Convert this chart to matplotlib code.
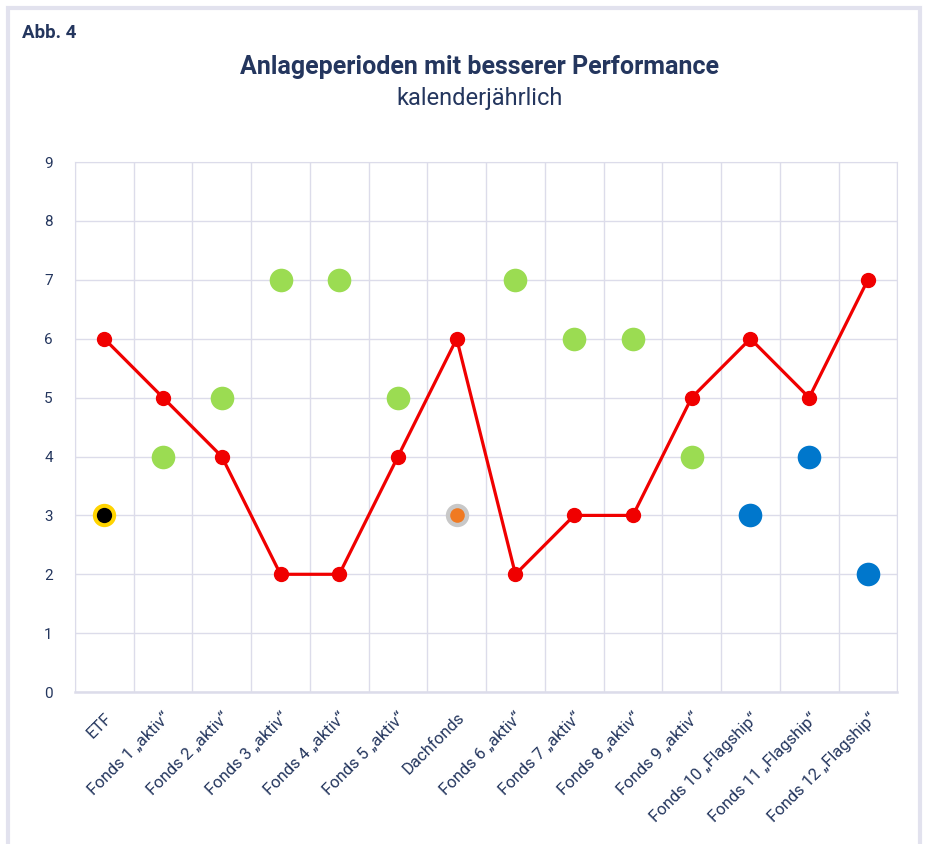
import matplotlib
matplotlib.use('Agg')
import matplotlib.pyplot as plt
from matplotlib.patches import Rectangle
import numpy as np

categories = ['ETF', 'Fonds 1 „aktiv“', 'Fonds 2 „aktiv“', 'Fonds 3 „aktiv“',
              'Fonds 4 „aktiv“', 'Fonds 5 „aktiv“', 'Dachfonds', 'Fonds 6 „aktiv“',
              'Fonds 7 „aktiv“', 'Fonds 8 „aktiv“', 'Fonds 9 „aktiv“',
              'Fonds 10 „Flagship“', 'Fonds 11 „Flagship“', 'Fonds 12 „Flagship“']
# red line: periods with better performance (benchmark side)
line_values = [6, 5, 4, 2, 2, 4, 6, 2, 3, 3, 5, 6, 5, 7]
# dots: the fund itself
fund_values = [3, 4, 5, 7, 7, 5, 3, 7, 6, 6, 4, 3, 4, 2]
fund_groups = ['etf', 'aktiv', 'aktiv', 'aktiv', 'aktiv', 'aktiv', 'dach',
               'aktiv', 'aktiv', 'aktiv', 'aktiv', 'flagship', 'flagship', 'flagship']
y_ticks = list(range(0, 10))

NAVY = '#24365e'
GRID = '#dcdcea'
# (inner colour, ring colour, inner size) - ring drawn as a larger disc below
STYLES = {
    'etf':      ('#000000', '#ffd400', 11),
    'aktiv':    ('#9bdc52', None, 17),
    'dach':     ('#f07a22', '#c8c8c8', 10.5),
    'flagship': ('#0077cc', None, 17),
}
RING_MS = 16.8

plt.rcParams['font.family'] = ['Roboto', 'DejaVu Sans']

fig = plt.figure(figsize=(9.25, 8.44), dpi=100)
ax = fig.add_axes([0.081, 0.180, 0.889, 0.628])

x = np.arange(len(categories))
ax.plot(x, line_values, color='#f00000', lw=2.3, marker='o', ms=10, zorder=3)
for xi, v, g in zip(x, fund_values, fund_groups):
    inner, ring, ms = STYLES[g]
    if ring:
        ax.plot(xi, v, 'o', color=ring, mew=0, ms=RING_MS, zorder=4)
    ax.plot(xi, v, 'o', color=inner, mew=0, ms=ms, zorder=5)

ax.set_xlim(-0.5, len(categories) - 0.5)
ax.set_ylim(0, 9)
ax.set_yticks(y_ticks)
ax.set_xticks(x)
ax.set_xticklabels(categories, rotation=45, ha='right', rotation_mode='anchor')
ax.set_xticks(np.arange(-0.5, len(categories)), minor=True)
ax.tick_params(axis='both', which='both', length=0, colors=NAVY)
ax.tick_params(axis='x', labelsize=12, pad=13)
ax.tick_params(axis='y', labelsize=11, pad=16)
ax.grid(axis='y', color=GRID, lw=1)
ax.grid(axis='x', which='minor', color=GRID, lw=1)
for sp in ax.spines.values():
    sp.set_color(GRID)
ax.spines['bottom'].set_linewidth(1.8)
ax.set_axisbelow(True)

fig.text(0.024, 0.961, 'Abb. 4', fontsize=13.5, fontweight='bold', color=NAVY, va='center')
fig.text(0.518, 0.921, 'Anlageperioden mit besserer Performance', fontsize=18,
         fontweight='bold', color=NAVY, ha='center', va='center')
fig.text(0.518, 0.883, 'kalenderjährlich', fontsize=17, color=NAVY,
         ha='center', va='center')

fig.patches.append(Rectangle((0.009, -0.05), 0.986, 1.04, transform=fig.transFigure,
                             fill=False, edgecolor='#e2e2ee', lw=3))

fig.savefig('out.png', dpi=100, facecolor='white')
